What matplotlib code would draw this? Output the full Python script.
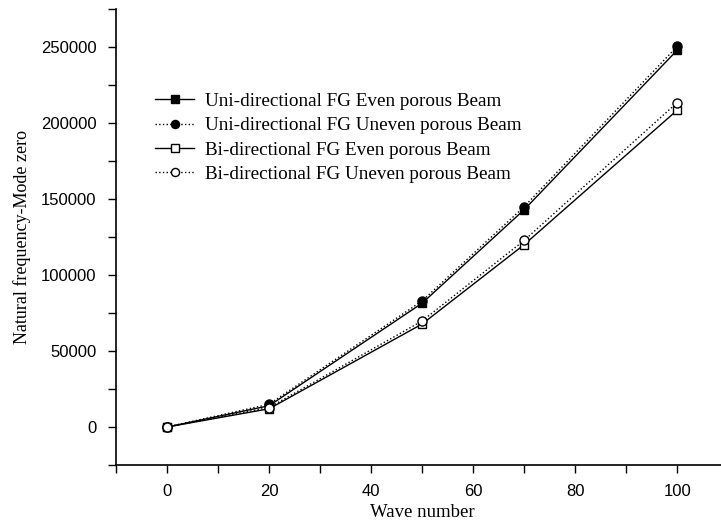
import numpy as np
import matplotlib.pyplot as plt
from matplotlib.ticker import MultipleLocator

# wave number vs. natural frequency (mode zero) for the four porous beams
wave = [0, 20, 50, 70, 100]
uni_even = [0, 14000, 81500, 143000, 248000]
uni_uneven = [0, 15000, 83000, 145000, 250500]
bi_even = [0, 12000, 67800, 120000, 208500]
bi_uneven = [0, 12800, 69800, 122800, 213500]

labels = ["Uni-directional FG Even porous Beam",
          "Uni-directional FG Uneven porous Beam",
          "Bi-directional FG Even porous Beam",
          "Bi-directional FG Uneven porous Beam"]

serif = "Liberation Serif"
sans = "Liberation Sans"

fig = plt.figure(figsize=(7.21, 5.24), dpi=100)
ax = fig.add_axes([0.161, 0.1126, 0.849, 0.870])

ax.plot(wave, uni_even, "k-", lw=1, marker="s", ms=6, mfc="k", label=labels[0])
ax.plot(wave, uni_uneven, "k:", lw=1, marker="o", ms=6.5, mfc="k", label=labels[1])
ax.plot(wave, bi_even, "k-", lw=1, marker="s", ms=6, mfc="w", label=labels[2])
ax.plot(wave, bi_uneven, "k:", lw=1, marker="o", ms=6.5, mfc="w", label=labels[3])

ax.set_xlim(-10, 110)
ax.set_ylim(-25000, 275000)
ax.xaxis.set_minor_locator(MultipleLocator(10))
ax.yaxis.set_minor_locator(MultipleLocator(25000))
ax.set_xticks([0, 20, 40, 60, 80, 100])
ax.set_yticks([0, 50000, 100000, 150000, 200000, 250000])

for s in ["top", "right"]:
    ax.spines[s].set_visible(False)
for s in ["left", "bottom"]:
    ax.spines[s].set_linewidth(1.2)

ax.tick_params(which="both", direction="out", width=1, length=6, pad=8)
for lab in ax.get_xticklabels() + ax.get_yticklabels():
    lab.set_fontfamily(sans)
    lab.set_fontsize(12)

ax.set_xlabel("Wave number", fontfamily=serif, fontsize=13.5, labelpad=3)
ax.set_ylabel("Natural frequency-Mode zero", fontfamily=serif, fontsize=13, labelpad=7)

ax.legend(loc="upper left", bbox_to_anchor=(0.205, 0.838), bbox_transform=fig.transFigure,
          frameon=False, prop={"family": serif, "size": 13.8}, handlelength=2.0,
          handletextpad=0.6, labelspacing=0.36, borderaxespad=0, markerscale=0.9)

fig.savefig("out.png", dpi=100)
